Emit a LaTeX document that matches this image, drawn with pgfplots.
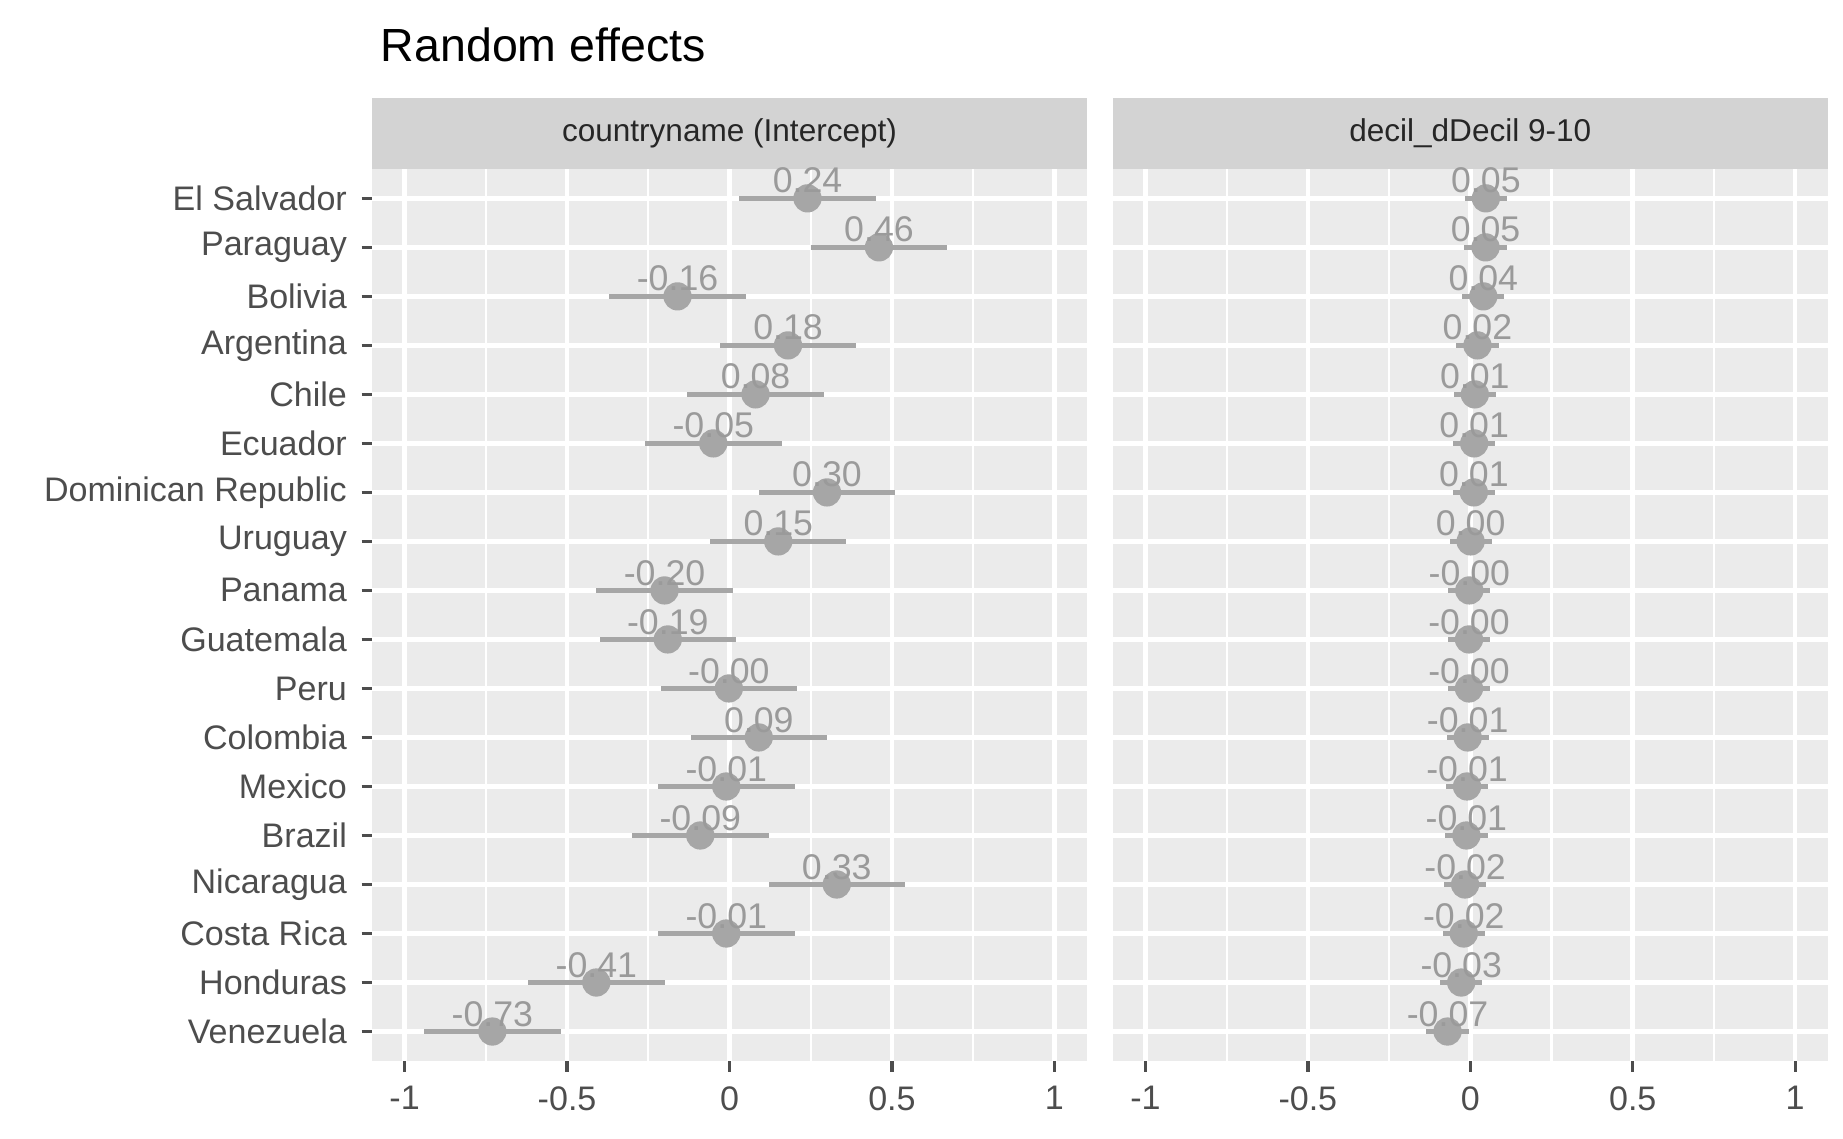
\documentclass[border=0pt]{standalone}
\usepackage{pgfplots}
\pgfplotsset{compat=1.18}
\usepackage{fontspec}
\setmainfont{Liberation Sans}
\definecolor{panel}{HTML}{EBEBEB}
\definecolor{strip}{HTML}{D3D3D3}
\definecolor{pt}{HTML}{A6A6A6}
\definecolor{lab}{HTML}{9A9A9A}
\definecolor{tk}{HTML}{4D4D4D}
\pgfplotstableread{
x y e lab
0.24 18 0.21 0.24
0.46 17 0.21 0.46
-0.16 16 0.21 -0.16
0.18 15 0.21 0.18
0.08 14 0.21 0.08
-0.05 13 0.21 -0.05
0.30 12 0.21 0.30
0.15 11 0.21 0.15
-0.20 10 0.21 -0.20
-0.19 9 0.21 -0.19
-0.002 8 0.21 -0.00
0.09 7 0.21 0.09
-0.01 6 0.21 -0.01
-0.09 5 0.21 -0.09
0.33 4 0.21 0.33
-0.01 3 0.21 -0.01
-0.41 2 0.21 -0.41
-0.73 1 0.21 -0.73
}\lefttab
\pgfplotstableread{
x y e lab
0.048 18 0.065 0.05
0.047 17 0.065 0.05
0.040 16 0.065 0.04
0.022 15 0.065 0.02
0.014 14 0.065 0.01
0.012 13 0.065 0.01
0.011 12 0.065 0.01
0.001 11 0.065 0.00
-0.003 10 0.065 -0.00
-0.004 9 0.065 -0.00
-0.004 8 0.065 -0.00
-0.008 7 0.065 -0.01
-0.010 6 0.065 -0.01
-0.012 5 0.065 -0.01
-0.016 4 0.065 -0.02
-0.020 3 0.065 -0.02
-0.028 2 0.065 -0.03
-0.070 1 0.065 -0.07
}\righttab
\pgfplotsset{
  panelstyle/.style={
    scale only axis, width=6.05cm, height=7.55cm,
    xmin=-1.1, xmax=1.1, ymin=0.4, ymax=18.6,
    axis background/.style={fill=panel},
    axis line style={draw=none},
    xtick={-1,-0.5,0,0.5,1}, xticklabels={-1,-0.5,0,0.5,1},
    minor xtick={-0.75,-0.25,0.25,0.75},
    ytick={1,...,18},
    grid=both,
    major grid style={white, line width=1.1pt},
    minor grid style={white, line width=0.5pt},
    tick align=outside, xtick pos=bottom, ytick pos=left,
    major tick length=0.09cm, minor tick length=0pt,
    tick style={tk, line width=0.8pt},
    ticklabel style={font=\fontsize{8.2}{9}\selectfont, text=tk},
    clip=false,
  },
  plotstyle/.style={
    only marks, mark=*, mark size=3.2pt, color=pt,
    error bars/.cd, x dir=both, x explicit, error mark=none,
    error bar style={line width=1.3pt, color=pt},
  },
}
\begin{document}
\begin{tikzpicture}
\useasboundingbox (0cm,-9.64cm) rectangle (15.6cm,0cm);
\node[anchor=west, font=\fontsize{11.2}{13}\selectfont] at (3.1cm,-0.38cm) {Random effects};
\begin{axis}[panelstyle, at={(3.15cm,-8.98cm)}, anchor=south west,
  yticklabels={Venezuela,Honduras,Costa Rica,Nicaragua,Brazil,Mexico,Colombia,Peru,Guatemala,Panama,Uruguay,Dominican Republic,Ecuador,Chile,Argentina,Bolivia,Paraguay,El Salvador}]
\addplot[plotstyle] table[x=x,y=y,x error=e] {\lefttab};
\addplot[only marks, mark=none, nodes near coords, point meta=explicit symbolic,
  nodes near coords style={anchor=center, yshift=0.15cm, text=lab, font=\fontsize{8.6}{9}\selectfont}]
  table[x=x,y=y,meta=lab] {\lefttab};
\fill[strip] (rel axis cs:0,1) rectangle ([yshift=0.6cm]rel axis cs:1,1);
\node[font=\fontsize{7.6}{9}\selectfont, text=black!85] at ([yshift=0.3cm]rel axis cs:0.5,1) {countryname (Intercept)};
\end{axis}
\begin{axis}[panelstyle, at={(9.42cm,-8.98cm)}, anchor=south west,
  yticklabels={}, ytick style={draw=none}]
\addplot[plotstyle] table[x=x,y=y,x error=e] {\righttab};
\addplot[only marks, mark=none, nodes near coords, point meta=explicit symbolic,
  nodes near coords style={anchor=center, yshift=0.15cm, text=lab, font=\fontsize{8.6}{9}\selectfont}]
  table[x=x,y=y,meta=lab] {\righttab};
\fill[strip] (rel axis cs:0,1) rectangle ([yshift=0.6cm]rel axis cs:1,1);
\node[font=\fontsize{7.6}{9}\selectfont, text=black!85] at ([yshift=0.3cm]rel axis cs:0.5,1) {decil\_dDecil 9-10};
\end{axis}
\end{tikzpicture}
\end{document}
